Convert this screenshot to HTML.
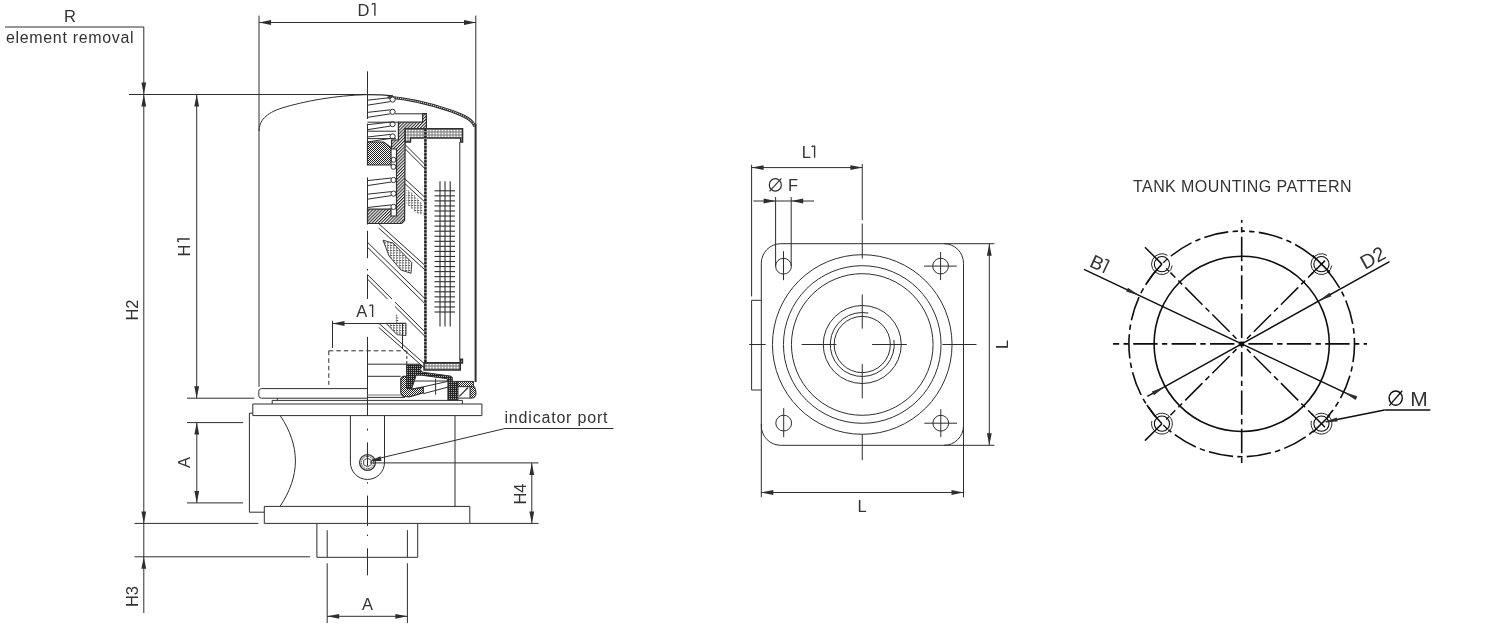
<!DOCTYPE html>
<html><head><meta charset="utf-8"><title>Filter drawing</title>
<style>
html,body{margin:0;padding:0;background:#fff;}
body{width:1500px;height:625px;overflow:hidden;}
svg{display:block;will-change:transform;}
svg text{font-family:"Liberation Sans",sans-serif;fill:#333;stroke:none;}
</style></head><body>
<svg width="1500" height="625" viewBox="0 0 1500 625">
<defs>
<pattern id="hatch" patternUnits="userSpaceOnUse" width="2.2" height="2.2" patternTransform="rotate(45)">
<rect width="2.2" height="2.2" fill="#fff"/><rect x="0" y="0" width="1.05" height="2.2" fill="#2a2a2a"/></pattern>
<pattern id="xdot" patternUnits="userSpaceOnUse" width="2" height="2">
<rect width="2" height="2" fill="#fff"/><rect x="0" y="0" width="1" height="1" fill="#222"/><rect x="1" y="1" width="1" height="1" fill="#222"/></pattern>
<pattern id="xlight" patternUnits="userSpaceOnUse" width="3" height="2.5">
<rect width="3" height="2.5" fill="#fff"/><rect x="0" y="0" width="2.2" height="0.9" fill="#444"/><rect x="0" y="0" width="0.7" height="2.5" fill="#888"/></pattern>
<pattern id="xdark" patternUnits="userSpaceOnUse" width="2" height="2">
<rect width="2" height="2" fill="#222"/><rect x="1" y="0" width="1" height="1" fill="#aaa"/></pattern>
<pattern id="dots" patternUnits="userSpaceOnUse" width="3" height="3">
<rect width="3" height="3" fill="#8a8a8a"/><circle cx="1.5" cy="1.5" r="1.05" fill="#fafafa"/></pattern>
</defs>
<g stroke="#2e2e2e" stroke-width="1" fill="none" stroke-linecap="butt">
<text x="70" y="22" font-size="16.5" text-anchor="middle">R</text>
<line x1="5" y1="27" x2="143.8" y2="27"/>
<text x="6" y="43" font-size="16" text-anchor="start" textLength="127.5" lengthAdjust="spacing">element removal</text>
<line x1="143.8" y1="27" x2="143.8" y2="94.5"/>
<polygon points="143.8,94.5 141.4,82.5 146.2,82.5" fill="#2e2e2e" stroke="none"/>
<line x1="129" y1="94.5" x2="367.5" y2="94.5"/>
<line x1="143.8" y1="94.5" x2="143.8" y2="613"/>
<polygon points="143.8,94.5 146.2,106.5 141.4,106.5" fill="#2e2e2e" stroke="none"/>
<polygon points="143.8,523.4 141.4,511.4 146.2,511.4" fill="#2e2e2e" stroke="none"/>
<polygon points="143.8,556.8 146.2,568.8 141.4,568.8" fill="#2e2e2e" stroke="none"/>
<text x="137.5" y="310" font-size="16.5" text-anchor="middle" transform="rotate(-90 137.5 310)">H2</text>
<text x="137.5" y="596.5" font-size="16.5" text-anchor="middle" transform="rotate(-90 137.5 596.5)">H3</text>
<line x1="134.5" y1="523.4" x2="258.4" y2="523.4"/>
<line x1="134.5" y1="556.8" x2="310.2" y2="556.8"/>
<line x1="196.7" y1="94.5" x2="196.7" y2="398.2"/>
<polygon points="196.7,94.5 199.1,106.5 194.3,106.5" fill="#2e2e2e" stroke="none"/>
<polygon points="196.7,398.2 194.3,386.2 199.1,386.2" fill="#2e2e2e" stroke="none"/>
<line x1="187" y1="398.2" x2="254.2" y2="398.2"/>
<g transform="translate(189.7 256.5) rotate(-90)">
<text x="0" y="0" font-size="16.5" text-anchor="start">H</text>
<path d="M14.6,-10.9 L15.2,-11.9 L17.5,-11.9 L17.5,0" fill="none" stroke-width="1.35" stroke="#333" stroke-linejoin="round"/>
</g>
<line x1="187" y1="422.6" x2="243.2" y2="422.6"/>
<line x1="187" y1="502.9" x2="243.2" y2="502.9"/>
<line x1="196.8" y1="422.6" x2="196.8" y2="502.9"/>
<polygon points="196.8,422.6 199.2,434.6 194.4,434.6" fill="#2e2e2e" stroke="none"/>
<polygon points="196.8,502.9 194.4,490.9 199.2,490.9" fill="#2e2e2e" stroke="none"/>
<text x="190.4" y="462.4" font-size="16.5" text-anchor="middle" transform="rotate(-90 190.4 462.4)">A</text>
<line x1="259" y1="22.5" x2="476" y2="22.5"/>
<polygon points="259,22.5 271,20.1 271,24.9" fill="#2e2e2e" stroke="none"/>
<polygon points="476,22.5 464,24.9 464,20.1" fill="#2e2e2e" stroke="none"/>
<line x1="259" y1="15.6" x2="259" y2="131"/>
<line x1="475.8" y1="15.6" x2="475.8" y2="124"/>
<g transform="translate(357.4 15.8) rotate(0)">
<text x="0" y="0" font-size="16.5" text-anchor="start">D</text>
<path d="M14.6,-11.2 L15.2,-12.2 L17.5,-12.2 L17.5,0" fill="none" stroke-width="1.35" stroke="#333" stroke-linejoin="round"/>
</g>
<line x1="367.5" y1="71.3" x2="367.5" y2="94.6"/>
<path d="M259,131 C259,121 266,113 282,108 C305,101 335,95.5 367.5,94.6" fill="none"/>
<line x1="259" y1="131" x2="259" y2="386.8"/>
<path d="M367.5,388.6 L261.3,388.6 Q258.8,388.6 258.8,391.1 L258.8,395.7 Q258.8,398.2 261.3,398.2 L367.5,398.2" fill="none"/>
<path d="M367.5,94.6 C378,94.6 386,95 393,95.9" fill="none" stroke-width="1.1"/>
<g transform="translate(-0.4,1.1)">
<path d="M388,95.9 C408,97.6 432,103 452,110 C466,115 473,119 475.3,125.5" fill="none" stroke="#2a2a2a" stroke-width="3.1"/>
<path d="M388,95.9 C408,97.6 432,103 452,110 C466,115 473,119 475.3,125.5" fill="none" stroke="#d8d8d8" stroke-width="1.1" stroke-dasharray="1.2 0.9"/>
</g>
<line x1="475.6" y1="124" x2="475.6" y2="382" stroke-width="2"/>
<line x1="272.2" y1="400.4" x2="462.4" y2="400.4"/>
<line x1="272.2" y1="400.4" x2="272.2" y2="404"/>
<line x1="277.4" y1="398.2" x2="277.4" y2="400.4"/>
<line x1="462.4" y1="400.4" x2="462.4" y2="404"/>
<polygon points="252.8,404 481.9,404 481.9,415.6 252.8,415.6" fill="none"/>
<path d="M252.8,413.2 L249.4,413.2 L249.4,512.2 L264.3,512.2" fill="none"/>
<line x1="455" y1="415.6" x2="455" y2="506.4"/>
<path d="M280.2,415.6 C300.5,446 300.5,476 280,506.4" fill="none"/>
<polygon points="264.3,506.4 469.8,506.4 469.8,523.4 264.3,523.4" fill="none"/>
<line x1="469.8" y1="523.4" x2="538.5" y2="523.4"/>
<path d="M350.4,415.6 L350.4,462.4 A17.05,17.05 0 0 0 384.5,462.4 L384.5,415.6" fill="none"/>
<circle cx="367.5" cy="462.5" r="7.9" fill="none" stroke-width="1.3"/>
<circle cx="367.5" cy="462.5" r="6.2" fill="none" stroke-width="1" stroke-dasharray="1.6 0.8"/>
<polygon points="371.31,464.7 367.5,466.9 363.69,464.7 363.69,460.3 367.5,458.1 371.31,460.3" fill="none" stroke-width="0.9"/>
<line x1="367.5" y1="398.2" x2="367.5" y2="415.6"/>
<line x1="367.5" y1="428.6" x2="367.5" y2="430.6"/>
<line x1="367.5" y1="442.4" x2="367.5" y2="466"/>
<line x1="367.5" y1="482.2" x2="367.5" y2="483.6"/>
<line x1="367.5" y1="495.6" x2="367.5" y2="523.4"/>
<path d="M316.9,523.4 L316.9,557.3 L417.7,557.3 L417.7,523.4" fill="none"/>
<line x1="327.2" y1="530.2" x2="327.2" y2="557.3"/>
<line x1="407.4" y1="530.2" x2="407.4" y2="557.3"/>
<line x1="367.5" y1="523.4" x2="367.5" y2="526"/>
<line x1="367.5" y1="534.6" x2="367.5" y2="536"/>
<line x1="367.5" y1="548.3" x2="367.5" y2="575.3"/>
<line x1="327.2" y1="563.3" x2="327.2" y2="623.1"/>
<line x1="407.4" y1="563.3" x2="407.4" y2="623.1"/>
<line x1="327.2" y1="616.3" x2="407.4" y2="616.3"/>
<polygon points="327.2,616.3 339.2,613.9 339.2,618.7" fill="#2e2e2e" stroke="none"/>
<polygon points="407.4,616.3 395.4,618.7 395.4,613.9" fill="#2e2e2e" stroke="none"/>
<text x="367.5" y="609.5" font-size="16.5" text-anchor="middle">A</text>
<line x1="370" y1="462.9" x2="538.5" y2="462.9"/>
<line x1="531.8" y1="462.9" x2="531.8" y2="523.4"/>
<polygon points="531.8,462.9 534.2,474.9 529.4,474.9" fill="#2e2e2e" stroke="none"/>
<polygon points="531.8,523.4 529.4,511.4 534.2,511.4" fill="#2e2e2e" stroke="none"/>
<text x="525.8" y="494" font-size="16.5" text-anchor="middle" transform="rotate(-90 525.8 494)">H4</text>
<line x1="505" y1="428.5" x2="613.5" y2="428.5"/>
<line x1="505" y1="428.5" x2="372" y2="460"/>
<polygon points="369.8,461.3 380.41,456.26 381.54,460.92" fill="#2e2e2e" stroke="none"/>
<text x="504.5" y="423" font-size="16" text-anchor="start" textLength="103" lengthAdjust="spacing">indicator port</text>
<line x1="367.5" y1="94.6" x2="367.5" y2="119"/>
<line x1="367.5" y1="123.6" x2="367.5" y2="165"/>
<line x1="367.5" y1="177.4" x2="367.5" y2="209.2"/>
<line x1="367.5" y1="223.5" x2="367.5" y2="224.5"/>
<line x1="367.5" y1="230.8" x2="367.5" y2="258.2"/>
<line x1="367.5" y1="269" x2="367.5" y2="270.5"/>
<line x1="367.5" y1="274.7" x2="367.5" y2="300"/>
<line x1="367.5" y1="336.9" x2="367.5" y2="364.2"/>
<line x1="367.5" y1="364.2" x2="406.6" y2="364.2"/>
<line x1="367.5" y1="364.2" x2="367.5" y2="398.2"/>
<line x1="367.5" y1="376.3" x2="400.7" y2="376.3"/>
<line x1="367.5" y1="395" x2="402.5" y2="395" stroke="#777"/>
<line x1="367.5" y1="397.4" x2="405" y2="397.4"/>
<line x1="367.5" y1="100.2" x2="390.4" y2="97.6"/>
<line x1="367.5" y1="105.2" x2="390.4" y2="101.6"/>
<circle cx="392.6" cy="99.6" r="2.6" fill="#fff"/>
<line x1="367.5" y1="112.4" x2="390.4" y2="109.8"/>
<line x1="367.5" y1="117.4" x2="390.4" y2="113.8"/>
<circle cx="392.6" cy="111.8" r="2.6" fill="#fff"/>
<line x1="367.5" y1="124.7" x2="390.4" y2="122.1"/>
<line x1="367.5" y1="129.7" x2="390.4" y2="126.1"/>
<circle cx="392.6" cy="124.1" r="2.6" fill="#fff"/>
<line x1="367.5" y1="137" x2="390.4" y2="134.4"/>
<line x1="367.5" y1="142" x2="390.4" y2="138.4"/>
<circle cx="392.6" cy="136.4" r="2.6" fill="#fff"/>
<line x1="367.5" y1="180.6" x2="391.3" y2="178"/>
<line x1="367.5" y1="185.6" x2="391.3" y2="182"/>
<circle cx="393.5" cy="180" r="2.6" fill="#fff"/>
<line x1="367.5" y1="194.2" x2="391.3" y2="191.6"/>
<line x1="367.5" y1="199.2" x2="391.3" y2="195.6"/>
<circle cx="393.5" cy="193.6" r="2.6" fill="#fff"/>
<line x1="367.5" y1="207.5" x2="391.3" y2="204.9"/>
<line x1="367.5" y1="212.5" x2="391.3" y2="208.9"/>
<circle cx="393.5" cy="206.9" r="2.6" fill="#fff"/>
<circle cx="393.5" cy="159.8" r="2.5" fill="#fff"/>
<circle cx="393.5" cy="166.8" r="2.5" fill="#fff"/>
<line x1="395" y1="113.8" x2="422.6" y2="113.8"/>
<line x1="367.5" y1="122.2" x2="398.4" y2="122.2"/>
<line x1="367.5" y1="131.2" x2="396" y2="131.2"/>
<line x1="367.5" y1="138.6" x2="396" y2="138.6"/>
<polygon points="398.4,122.2 422.6,122.2 422.6,113.6 426.4,113.6 426.4,128.6 405.2,128.6 404.6,220.5 401.6,223.5 367.5,223.5 367.5,209.2 391,209.2 391,216 396.5,216 396.5,149 391.5,149 391.5,140 398.4,140" fill="url(#hatch)" stroke="#2e2e2e" stroke-width="1.2"/>
<polygon points="367.5,142 383.6,142 391,147.6 391,165 367.5,165" fill="url(#xdot)" stroke="#2e2e2e" stroke-width="1.2"/>
<polygon points="405.2,128.8 462.6,128.8 462.6,142 460.6,142 460.6,138 410.5,138 410.5,142 405.2,142" fill="url(#dots)" stroke="#2e2e2e" stroke-width="1.4"/>
<line x1="425.4" y1="128.8" x2="425.4" y2="362.6" stroke-width="2.4" stroke="#888"/>
<line x1="425.4" y1="128.8" x2="425.4" y2="362.6" stroke-width="2.4" stroke="#1e1e1e" stroke-dasharray="2.2 1.3"/>
<line x1="459.8" y1="142" x2="459.8" y2="359.5"/>
<line x1="440" y1="181.3" x2="440" y2="326.6" stroke-width="1.1"/>
<line x1="445" y1="181.3" x2="445" y2="326.6" stroke-width="1.1"/>
<line x1="450.2" y1="181.3" x2="450.2" y2="326.6" stroke-width="1.1"/>
<line x1="434.5" y1="190.8" x2="455" y2="190.8" stroke-width="1.1"/>
<line x1="434.5" y1="195.85" x2="455" y2="195.85" stroke-width="1.1"/>
<line x1="434.5" y1="200.9" x2="455" y2="200.9" stroke-width="1.1"/>
<line x1="434.5" y1="205.95" x2="455" y2="205.95" stroke-width="1.1"/>
<line x1="434.5" y1="211" x2="455" y2="211" stroke-width="1.1"/>
<line x1="434.5" y1="216.05" x2="455" y2="216.05" stroke-width="1.1"/>
<line x1="434.5" y1="221.1" x2="455" y2="221.1" stroke-width="1.1"/>
<line x1="434.5" y1="226.15" x2="455" y2="226.15" stroke-width="1.1"/>
<line x1="434.5" y1="231.2" x2="455" y2="231.2" stroke-width="1.1"/>
<line x1="434.5" y1="236.25" x2="455" y2="236.25" stroke-width="1.1"/>
<line x1="434.5" y1="241.3" x2="455" y2="241.3" stroke-width="1.1"/>
<line x1="434.5" y1="246.35" x2="455" y2="246.35" stroke-width="1.1"/>
<line x1="434.5" y1="251.4" x2="455" y2="251.4" stroke-width="1.1"/>
<line x1="434.5" y1="256.45" x2="455" y2="256.45" stroke-width="1.1"/>
<line x1="434.5" y1="261.5" x2="455" y2="261.5" stroke-width="1.1"/>
<line x1="434.5" y1="266.55" x2="455" y2="266.55" stroke-width="1.1"/>
<line x1="434.5" y1="271.6" x2="455" y2="271.6" stroke-width="1.1"/>
<line x1="434.5" y1="276.65" x2="455" y2="276.65" stroke-width="1.1"/>
<line x1="434.5" y1="281.7" x2="455" y2="281.7" stroke-width="1.1"/>
<line x1="434.5" y1="286.75" x2="455" y2="286.75" stroke-width="1.1"/>
<line x1="434.5" y1="291.8" x2="455" y2="291.8" stroke-width="1.1"/>
<line x1="434.5" y1="296.85" x2="455" y2="296.85" stroke-width="1.1"/>
<line x1="434.5" y1="301.9" x2="455" y2="301.9" stroke-width="1.1"/>
<line x1="434.5" y1="306.95" x2="455" y2="306.95" stroke-width="1.1"/>
<line x1="434.5" y1="312" x2="455" y2="312" stroke-width="1.1"/>
<line x1="405.3" y1="144.8" x2="424.4" y2="163.9"/>
<line x1="405.3" y1="149" x2="424.4" y2="168.1"/>
<line x1="404.6" y1="178.6" x2="424.1" y2="196.6"/>
<line x1="404.6" y1="183.4" x2="424.1" y2="201.4"/>
<line x1="378.7" y1="223.6" x2="424.1" y2="264.6"/>
<line x1="378.7" y1="228" x2="424.1" y2="269"/>
<line x1="367.5" y1="242.3" x2="424.1" y2="297.8"/>
<line x1="367.5" y1="247.3" x2="424.1" y2="302.8"/>
<line x1="367.5" y1="274.7" x2="424.1" y2="331.1"/>
<line x1="367.5" y1="279.1" x2="424.1" y2="335.5"/>
<line x1="378.7" y1="323.2" x2="424.1" y2="363.5"/>
<line x1="378.7" y1="327.4" x2="424.1" y2="367.7"/>
<polygon points="406.5,189 413,193.5 422.5,204 423.5,215.5 416,213 406.5,204" fill="url(#xlight)" stroke="none"/>
<polygon points="383,240.2 393,243 411.8,262.6 411,273.3 401,270 389,256" fill="url(#xlight)" stroke="#2e2e2e" stroke-width="0.9"/>
<polygon points="386,323.2 406,323.2 406,335.5 397,334.7" fill="url(#xlight)" stroke="#2e2e2e" stroke-width="0.9"/>
<polygon points="394.6,313 398.9,317 398.9,323 394.6,323" fill="url(#xlight)" stroke="none"/>
<line x1="402.5" y1="323.2" x2="402.5" y2="348.4"/>
<rect x="345" y="299" width="50" height="23.5" fill="#fff" stroke="none"/>
<g transform="translate(356.3 317) rotate(0)">
<text x="0" y="0" font-size="16.5" text-anchor="start">A</text>
<path d="M13.4,-10.9 L14,-11.9 L16.3,-11.9 L16.3,0" fill="none" stroke-width="1.35" stroke="#333" stroke-linejoin="round"/>
</g>
<line x1="332.5" y1="323.5" x2="404.8" y2="323.5"/>
<polygon points="332.5,323.5 344.5,321.1 344.5,325.9" fill="#2e2e2e" stroke="none"/>
<line x1="332.5" y1="320.8" x2="332.5" y2="348"/>
<line x1="328.8" y1="350.8" x2="406.4" y2="350.8" stroke-dasharray="4.5 3"/>
<line x1="328.8" y1="350.8" x2="328.8" y2="384.8" stroke-dasharray="4.5 3"/>
<line x1="406.8" y1="351" x2="406.8" y2="370" stroke-dasharray="3 2"/>
<polygon points="424.1,362.9 462.4,362.9 462.4,359.4 460.2,359.4 460.2,370 424.1,370" fill="url(#dots)" stroke="#2e2e2e" stroke-width="1.6"/>
<polygon points="406.6,364.2 419.7,364.2 422.4,366 420.2,369.5 422.4,372.2 450.5,376.1 452.3,377.4 452.3,381.4 447.9,381.4 447,378.7 421.5,375.2 416.2,375.2 411.8,388.4 406.6,388.4" fill="url(#xdark)" stroke="#2e2e2e" stroke-width="1"/>
<polygon points="403,376.3 406.6,376.3 406.6,388.4 411.8,389 423.3,387.5 423.3,392.8 409.2,396.8 403,396.3 400.8,393 400.8,378.5" fill="url(#xdot)" stroke="#2e2e2e" stroke-width="1.2"/>
<polygon points="447.9,381.4 458,381.4 458,399.9 447.9,399.9" fill="url(#xdark)" stroke="#2e2e2e" stroke-width="1"/>
<polygon points="458,381.4 473.4,381.4 473.4,386.7 458,386.7" fill="url(#xdot)" stroke="#2e2e2e" stroke-width="1"/>
<path d="M470,386.7 L474.5,386.7 Q476,390 476,393 Q476,398 472,398.1 L470,398.1 Z" fill="url(#xdot)" stroke="#2e2e2e" stroke-width="1"/>
<line x1="459.3" y1="396.3" x2="468.1" y2="387.5" stroke-width="1.2"/>
<line x1="411.8" y1="389.3" x2="447.9" y2="381.4"/>
<line x1="423.3" y1="393.7" x2="447.9" y2="387.1"/>
<line x1="435.6" y1="378.7" x2="435.6" y2="394.6"/>
<line x1="413.6" y1="381" x2="447.9" y2="381"/>
<line x1="458" y1="398.1" x2="470" y2="398.1"/>
<line x1="751.6" y1="164.7" x2="751.6" y2="296.4"/>
<line x1="751.6" y1="167.6" x2="862.4" y2="167.6"/>
<polygon points="751.6,167.6 763.6,165.2 763.6,170" fill="#2e2e2e" stroke="none"/>
<polygon points="862.4,167.6 850.4,170 850.4,165.2" fill="#2e2e2e" stroke="none"/>
<g transform="translate(801.8 157.7) rotate(0)">
<text x="0" y="0" font-size="16.5" text-anchor="start">L</text>
<path d="M9.9,-10.6 L10.5,-11.6 L12.8,-11.6 L12.8,0" fill="none" stroke-width="1.35" stroke="#333" stroke-linejoin="round"/>
</g>
<line x1="862.25" y1="164" x2="862.25" y2="220.2"/>
<line x1="862.25" y1="223.6" x2="862.25" y2="258.6"/>
<line x1="862.25" y1="294.5" x2="862.25" y2="328.6"/>
<line x1="862.25" y1="364.1" x2="862.25" y2="398.3"/>
<line x1="862.25" y1="434.2" x2="862.25" y2="460.2"/>
<line x1="749.2" y1="344.5" x2="765.7" y2="344.5"/>
<line x1="801.6" y1="344.5" x2="836.4" y2="344.5"/>
<line x1="872.1" y1="344.5" x2="906.8" y2="344.5"/>
<line x1="942.4" y1="344.5" x2="976.5" y2="344.5"/>
<line x1="753.4" y1="201" x2="814" y2="201"/>
<polygon points="775.6,201 763.6,203.4 763.6,198.6" fill="#2e2e2e" stroke="none"/>
<polygon points="791.2,201 803.2,198.6 803.2,203.4" fill="#2e2e2e" stroke="none"/>
<line x1="775.6" y1="197" x2="775.6" y2="266.3"/>
<line x1="791.2" y1="197" x2="791.2" y2="266.3"/>
<ellipse cx="775.3" cy="184.9" rx="6" ry="6.2" fill="none" stroke-width="1.2"/>
<line x1="769.5" y1="191.3" x2="781.4" y2="178.3" stroke-width="1.1"/>
<text x="788" y="190.8" font-size="16.5" text-anchor="start" textLength="8" lengthAdjust="spacing">F</text>
<rect x="761.3" y="243.7" width="202.2" height="201.6" rx="19.5" ry="19.5" fill="none"/>
<path d="M761.3,300.3 L751.6,300.3 L751.6,390 L761.3,390" fill="none"/>
<circle cx="783.5" cy="266.2" r="7.9" fill="none"/>
<line x1="783.5" y1="251.2" x2="783.5" y2="280.2"/>
<circle cx="783.7" cy="423.1" r="7.9" fill="none"/>
<line x1="783.7" y1="408.1" x2="783.7" y2="437.1"/>
<circle cx="940.6" cy="266.1" r="7.9" fill="none"/>
<line x1="924.1" y1="266.1" x2="956.8" y2="266.1"/>
<line x1="940.6" y1="252.1" x2="940.6" y2="280.1"/>
<circle cx="940.8" cy="423.2" r="7.9" fill="none"/>
<line x1="924.3" y1="423.2" x2="957" y2="423.2"/>
<line x1="940.8" y1="409.2" x2="940.8" y2="437.2"/>
<circle cx="862.25" cy="344.5" r="89.8" fill="none"/>
<circle cx="862.25" cy="344.5" r="78.8" fill="none"/>
<circle cx="862.25" cy="344.5" r="70.8" fill="none"/>
<circle cx="862.25" cy="344.5" r="39" fill="none"/>
<circle cx="862.25" cy="344.5" r="28.1" fill="none"/>
<path d="M868.36,313.09 A32,32 0 1 0 893.94,340.05" fill="none"/>
<line x1="944" y1="243.7" x2="994.4" y2="243.7"/>
<line x1="944" y1="445.3" x2="994.4" y2="445.3"/>
<line x1="989.3" y1="243.7" x2="989.3" y2="445.3"/>
<polygon points="989.3,243.7 991.7,255.7 986.9,255.7" fill="#2e2e2e" stroke="none"/>
<polygon points="989.3,445.3 986.9,433.3 991.7,433.3" fill="#2e2e2e" stroke="none"/>
<text x="1007.5" y="344.5" font-size="16.5" text-anchor="middle" transform="rotate(-90 1007.5 344.5)">L</text>
<line x1="761.3" y1="424" x2="761.3" y2="497.3"/>
<line x1="963.5" y1="424" x2="963.5" y2="497.3"/>
<line x1="761.3" y1="492.5" x2="963.5" y2="492.5"/>
<polygon points="761.3,492.5 773.3,490.1 773.3,494.9" fill="#2e2e2e" stroke="none"/>
<polygon points="963.5,492.5 951.5,494.9 951.5,490.1" fill="#2e2e2e" stroke="none"/>
<text x="862" y="512" font-size="16.5" text-anchor="middle">L</text>
<g stroke="#0e0e0e">
<text x="1133" y="191.7" font-size="16" text-anchor="start" textLength="218.5" lengthAdjust="spacing">TANK MOUNTING PATTERN</text>
<path d="M1241.7,231.1 A112.8,112.8 0 1 0 1241.7,456.7 A112.8,112.8 0 1 0 1241.7,231.1" fill="none" stroke-width="1.6" stroke-dasharray="24.4 4.3 5.4 4.3" stroke-dashoffset="24.8"/>
<circle cx="1241.7" cy="343.9" r="87.6" fill="none" stroke-width="1.6"/>
<line x1="1113" y1="343.9" x2="1367" y2="343.9" stroke-width="1.6" stroke-dasharray="24.4 4.3 5.4 4.3" stroke-dashoffset="18.2"/>
<line x1="1241.7" y1="220" x2="1241.7" y2="465.4" stroke-width="1.6" stroke-dasharray="24.4 4.3 5.4 4.3" stroke-dashoffset="21.6"/>
<line x1="1241.7" y1="343.9" x2="1312.98" y2="272.62" stroke-width="1.5" stroke-dasharray="24.4 4.3 5.4 4.3" stroke-dashoffset="21.3"/>
<line x1="1241.7" y1="343.9" x2="1170.42" y2="272.62" stroke-width="1.5" stroke-dasharray="24.4 4.3 5.4 4.3" stroke-dashoffset="21.3"/>
<line x1="1241.7" y1="343.9" x2="1170.42" y2="415.18" stroke-width="1.5" stroke-dasharray="24.4 4.3 5.4 4.3" stroke-dashoffset="21.3"/>
<line x1="1241.7" y1="343.9" x2="1312.98" y2="415.18" stroke-width="1.5" stroke-dasharray="24.4 4.3 5.4 4.3" stroke-dashoffset="21.3"/>
<circle cx="1321.46" cy="264.14" r="9" fill="#fff" stroke="none"/>
<circle cx="1321.46" cy="264.14" r="7.6" fill="none" stroke-width="1.1"/>
<path d="M1326.97,255.32 A10.4,10.4 0 1 0 1331.77,265.5" fill="none" stroke-width="0.9"/>
<line x1="1312.98" y1="255.65" x2="1329.95" y2="272.62" stroke-width="1.5"/>
<line x1="1311.56" y1="274.04" x2="1325" y2="260.6" stroke-width="1.5"/>
<circle cx="1161.94" cy="264.14" r="9" fill="#fff" stroke="none"/>
<circle cx="1161.94" cy="264.14" r="7.6" fill="none" stroke-width="1.1"/>
<path d="M1167.45,255.32 A10.4,10.4 0 1 0 1172.25,265.5" fill="none" stroke-width="0.9"/>
<line x1="1161.94" y1="264.14" x2="1144.97" y2="247.17" stroke-width="1.5"/>
<path d="M1161.94,264.14 A112.8,112.8 0 0 0 1146.88,282.8" fill="none" stroke-width="1.5"/>
<line x1="1163.35" y1="262.72" x2="1167.24" y2="258.84" stroke-width="1.3"/>
<line x1="1166.18" y1="268.38" x2="1169.01" y2="271.21" stroke-width="1.3"/>
<circle cx="1161.94" cy="423.66" r="9" fill="#fff" stroke="none"/>
<circle cx="1161.94" cy="423.66" r="7.6" fill="none" stroke-width="1.1"/>
<path d="M1151.89,420.97 A10.4,10.4 0 1 0 1155.97,415.14" fill="none" stroke-width="0.9"/>
<line x1="1161.94" y1="423.66" x2="1144.97" y2="440.63" stroke-width="1.5"/>
<path d="M1161.94,423.66 A112.8,112.8 0 0 1 1146.88,405" fill="none" stroke-width="1.5"/>
<line x1="1163.35" y1="425.08" x2="1167.24" y2="428.96" stroke-width="1.3"/>
<line x1="1166.18" y1="419.42" x2="1169.01" y2="416.59" stroke-width="1.3"/>
<circle cx="1321.46" cy="423.66" r="9" fill="#fff" stroke="none"/>
<circle cx="1321.46" cy="423.66" r="7.6" fill="none" stroke-width="1.1"/>
<path d="M1311.42,420.97 A10.4,10.4 0 1 0 1315.5,415.14" fill="none" stroke-width="0.9"/>
<line x1="1329.95" y1="415.18" x2="1312.98" y2="432.15" stroke-width="1.5"/>
<line x1="1311.56" y1="413.76" x2="1325" y2="427.2" stroke-width="1.5"/>
<line x1="1084" y1="269.36" x2="1241.7" y2="343.9" stroke-width="1.5"/>
<line x1="1241.7" y1="343.9" x2="1356.52" y2="398.17" stroke-width="1.5"/>
<polygon points="1139.72,295.69 1126.16,291.61 1127.96,287.81" fill="#2e2e2e" stroke="none"/>
<polygon points="1343.68,392.11 1357.24,396.19 1355.44,399.99" fill="#2e2e2e" stroke="none"/>
<g transform="translate(1088.56 266) rotate(25.3)">
<text x="0" y="0" font-size="19" text-anchor="start">B</text>
<path d="M12.77,-12.6 L13.37,-13.6 L16.07,-13.6 L16.07,0" fill="none" stroke-width="1.5" stroke="#333" stroke-linejoin="round"/>
</g>
<line x1="1241.7" y1="343.9" x2="1389.5" y2="261.64" stroke-width="1.5"/>
<line x1="1241.7" y1="343.9" x2="1147.33" y2="396.42" stroke-width="1.5"/>
<polygon points="1318.24,301.3 1329.45,292.65 1331.5,296.32" fill="#2e2e2e" stroke="none"/>
<polygon points="1165.16,386.5 1153.95,395.15 1151.9,391.48" fill="#2e2e2e" stroke="none"/>
<text x="1376.1" y="263.8" font-size="20" text-anchor="middle" transform="rotate(-29.1 1376.1 263.8)">D2</text>
<line x1="1384.5" y1="409.9" x2="1430.4" y2="409.9" stroke-width="1.5"/>
<line x1="1384.5" y1="409.9" x2="1326" y2="421.8" stroke-width="1.5"/>
<polygon points="1323.5,422.3 1336.8,417.45 1337.64,421.57" fill="#2e2e2e" stroke="none"/>
<ellipse cx="1395.7" cy="398.1" rx="6.6" ry="7.1" fill="none" stroke-width="1.4"/>
<line x1="1389.3" y1="405.6" x2="1402.2" y2="390.8" stroke-width="1.3"/>
<text x="1410.3" y="405.9" font-size="21" text-anchor="start" textLength="16" lengthAdjust="spacing">M</text>
<circle cx="1241.7" cy="343.9" r="2" fill="#0e0e0e"/>
</g>
</g>
</svg>
</body></html>
